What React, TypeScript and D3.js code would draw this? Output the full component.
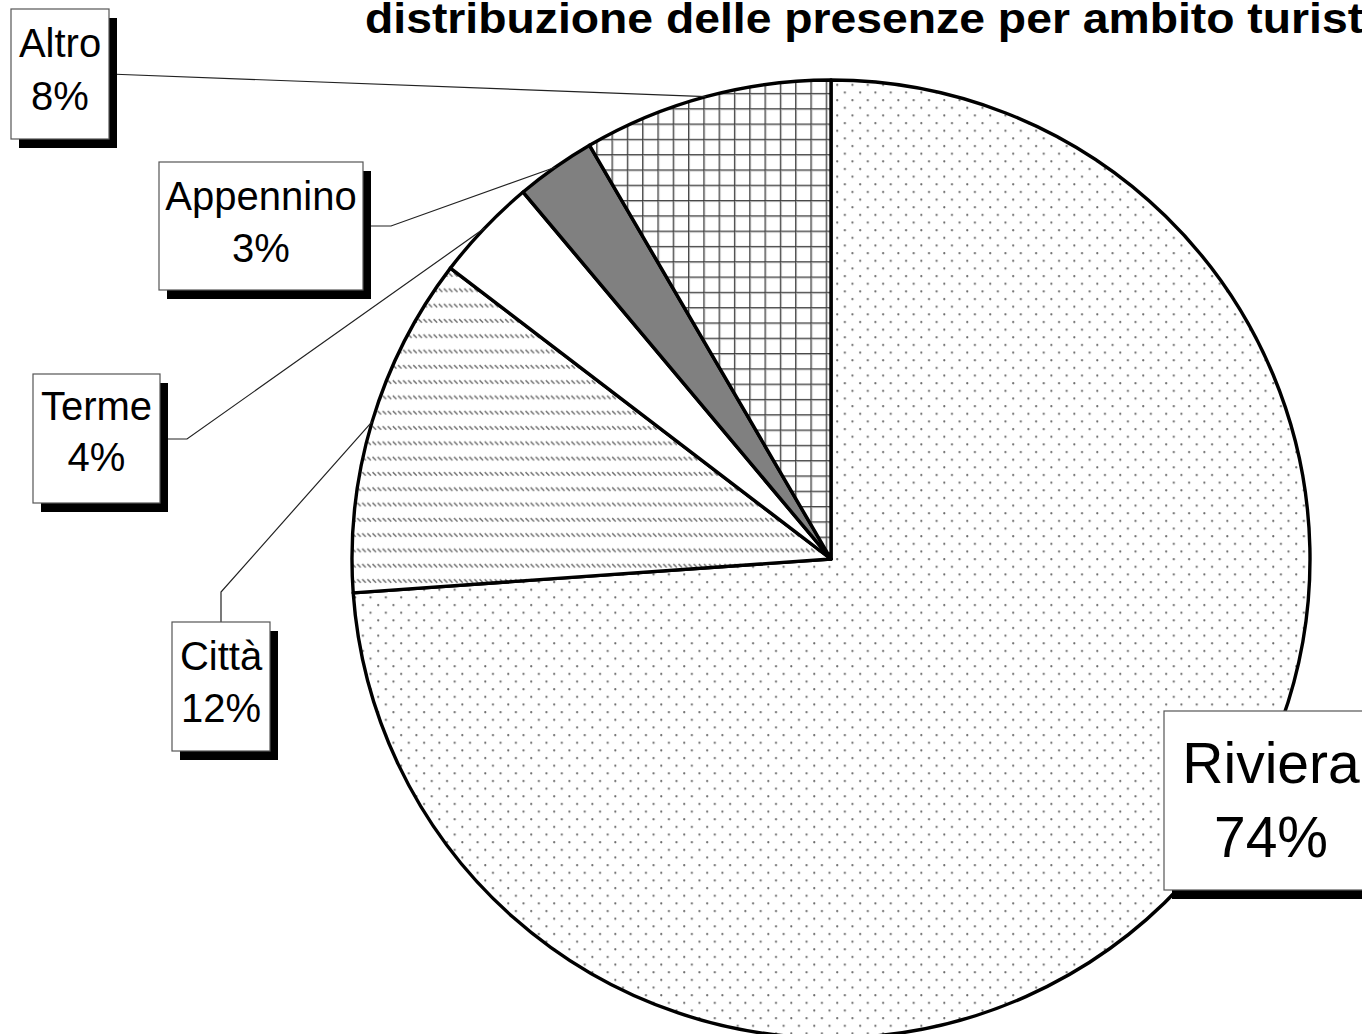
import React from 'react';
import * as d3 from 'd3';

// ---- data ----
const categories = ['Riviera', 'Città', 'Terme', 'Appennino', 'Altro'];
const shares = [73.8, 11.5, 3.5, 2.7, 8.4];
const pctLabels = ['74%', '12%', '4%', '3%', '8%'];
const title = 'distribuzione delle presenze per ambito turistico';

// ---- layout / style ----
const W = 1362, H = 1034;
const CX = 831, CY = 559, R = 479;
const T = 15.3; // pattern tile
const FONT = '"Liberation Sans", Arial, Helvetica, sans-serif';
const fills = ['url(#pDots)', 'url(#pHatch)', '#ffffff', '#808080', 'url(#pGrid)'];

type Box = { x: number; y: number; w: number; h: number; fs: number; b1: number; b2: number; start?: [number, number]; elbow?: [number, number] };
const boxes: Box[] = [
  { x: 1164, y: 711, w: 214, h: 179, fs: 57, b1: 783, b2: 857 },
  { x: 172, y: 622, w: 98, h: 129, fs: 40, b1: 670, b2: 722, start: [221, 622], elbow: [221, 592] },
  { x: 33, y: 374, w: 127, h: 129, fs: 40, b1: 420, b2: 471, start: [160, 439], elbow: [187, 439] },
  { x: 159, y: 162, w: 204, h: 128, fs: 40, b1: 210, b2: 262, start: [363, 226], elbow: [391, 226] },
  { x: 11, y: 9, w: 98, h: 130, fs: 40, b1: 57, b2: 110, start: [109, 74] },
];

export default function App() {
  const pie = d3.pie<number>().sort(null).value((d) => d)(shares);
  const arc = d3.arc<d3.PieArcDatum<number>>().innerRadius(0).outerRadius(R);

  const hatchXs = [0, T / 3, (2 * T) / 3];

  return (
    <svg width={W} height={H} style={{ position: 'absolute', left: 0, top: 0, display: 'block', background: '#fff' }}>
      <defs>
        <pattern id="pDots" patternUnits="userSpaceOnUse" width={T} height={T} x={5} y={-1}>
          <rect width={T} height={T} fill="#fff" />
          <circle cx={1.2} cy={1.2} r={1.1} fill="#6a6a6a" />
          <circle cx={1.2 + T / 2} cy={1.2 + T / 2} r={1.1} fill="#6a6a6a" />
        </pattern>
        <pattern id="pHatch" patternUnits="userSpaceOnUse" width={T} height={T} x={0} y={2}>
          <rect width={T} height={T} fill="#fff" />
          {hatchXs.map((hx, i) => (
            <line key={i} x1={hx + 0.5} y1={3} x2={hx + 4} y2={6.5} stroke="#707070" strokeWidth={1.4} />
          ))}
        </pattern>
        <pattern id="pGrid" patternUnits="userSpaceOnUse" width={T} height={T} x={10} y={8.2}>
          <rect width={T} height={T} fill="#fff" />
          <line x1={0} y1={0} x2={0} y2={T} stroke="#aaa" strokeWidth={4} />
          <line x1={0} y1={0} x2={T} y2={0} stroke="#aaa" strokeWidth={4} />
          <line x1={0} y1={0} x2={0} y2={T} stroke="#333" strokeWidth={1.6} />
          <line x1={0} y1={0} x2={T} y2={0} stroke="#333" strokeWidth={1.6} />
        </pattern>
      </defs>

      <g transform={`translate(${CX},${CY})`}>
        {pie.map((p, i) => (
          <path key={categories[i]} d={arc(p) || ''} fill={fills[i]} stroke="#000" strokeWidth={3.4} strokeLinejoin="round" />
        ))}
      </g>

      {/* leader lines */}
      {pie.map((p, i) => {
        const b = boxes[i];
        if (!b.start) return null;
        const mid = (p.startAngle + p.endAngle) / 2;
        const end: [number, number] = [CX + R * Math.sin(mid), CY - R * Math.cos(mid)];
        const pts: [number, number][] = [b.start];
        if (b.elbow) pts.push(b.elbow);
        pts.push(end);
        const line = d3.line()(pts) || '';
        return <path key={'l' + i} d={line} fill="none" stroke="#222" strokeWidth={1.2} />;
      })}

      {/* label boxes */}
      {boxes.map((b, i) => (
        <g key={'b' + i}>
          <rect x={b.x + 8} y={b.y + 9} width={b.w} height={b.h} fill="#000" />
          <rect x={b.x} y={b.y} width={b.w} height={b.h} fill="#fff" stroke="#555" strokeWidth={1.2} />
          <text x={b.x + b.w / 2} y={b.b1} textAnchor="middle" fontFamily={FONT} fontSize={b.fs} fill="#000">
            {categories[i]}
          </text>
          <text x={b.x + b.w / 2} y={b.b2} textAnchor="middle" fontFamily={FONT} fontSize={b.fs} fill="#000">
            {pctLabels[i]}
          </text>
        </g>
      ))}

      <text x={365} y={33} fontFamily={FONT} fontWeight="bold" fontSize={42} textLength={1065} lengthAdjust="spacingAndGlyphs" fill="#000">
        {title}
      </text>
    </svg>
  );
}
